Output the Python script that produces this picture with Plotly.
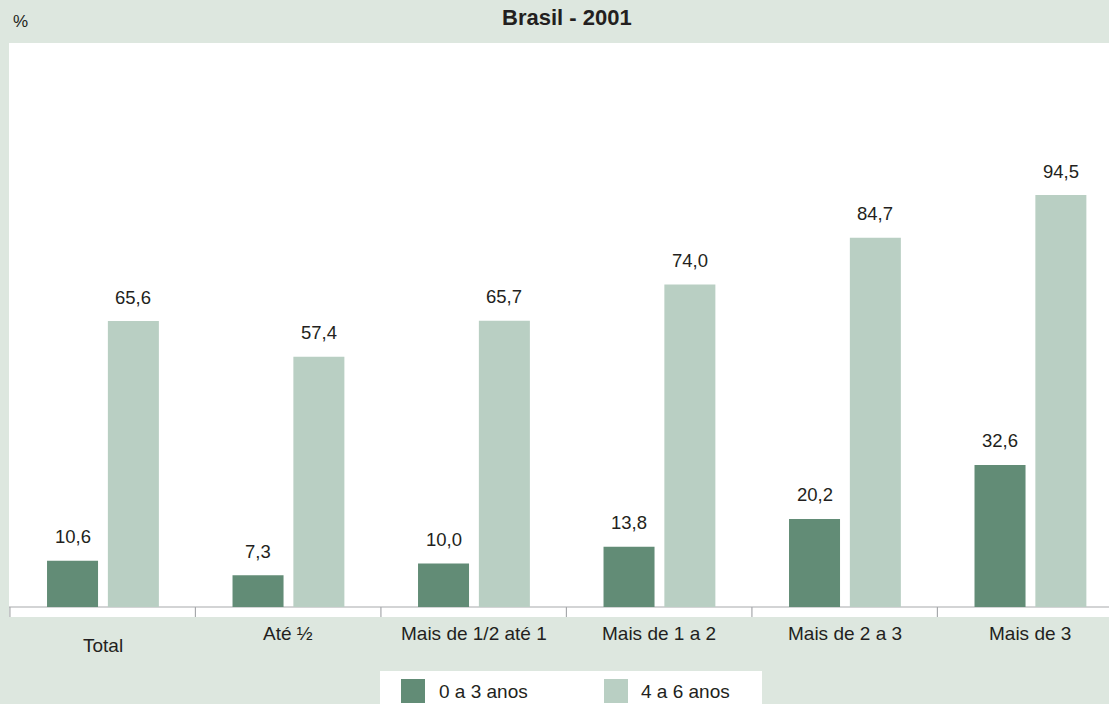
import plotly.graph_objects as go

# Data
categories = ["Total", "Até ½", "Mais de 1/2 até 1", "Mais de 1 a 2", "Mais de 2 a 3", "Mais de 3"]
series_names = ["0 a 3 anos", "4 a 6 anos"]
values_0_3 = [10.6, 7.3, 10.0, 13.8, 20.2, 32.6]
values_4_6 = [65.6, 57.4, 65.7, 74.0, 84.7, 94.5]

# Style
W, H = 1109, 704
M_L, M_R, M_T, M_B = 9, 0, 43, 87
BG = "#dde7df"
DARK = "#628c76"
LIGHT = "#b9cfc3"
AXIS = "#a7a9ac"
TEXT = "#231f20"
FONT = "Liberation Sans, Arial, sans-serif"

X_RANGE = [-0.505, 5.425]
Y_RANGE = [-2.29, 129.4]
BAR_W = 0.275
OFF_DARK = -0.30
OFF_LIGHT = 0.028

plot_w = W - M_L - M_R
plot_h = H - M_T - M_B


def px_x(p):
    return (p - M_L) / plot_w


def px_y(p):
    return (H - M_B - p) / plot_h


idx = list(range(len(categories)))

fig = go.Figure()
fig.add_trace(go.Bar(x=idx, y=values_0_3, name=series_names[0], marker_color=DARK,
                     marker_line_width=0, width=BAR_W, offset=OFF_DARK))
fig.add_trace(go.Bar(x=idx, y=values_4_6, name=series_names[1], marker_color=LIGHT,
                     marker_line_width=0, width=BAR_W, offset=OFF_LIGHT))

annotations = []
# value labels above bars
for vals, off in ((values_0_3, OFF_DARK), (values_4_6, OFF_LIGHT)):
    for i, v in zip(idx, vals):
        annotations.append(dict(
            x=i + off + BAR_W / 2, y=v, xref="x", yref="y",
            text=f"{v:.1f}".replace(".", ","), showarrow=False,
            yanchor="middle", yshift=24,
            font=dict(family=FONT, size=18.5, color=TEXT)))

# category labels
for i, c in zip(idx, categories):
    annotations.append(dict(
        x=i, y=0, xref="x", yref="paper", text=c, showarrow=False,
        yanchor="middle", yshift=-28 if i == 0 else -16,
        font=dict(family=FONT, size=19, color=TEXT)))

# title and unit
annotations.append(dict(
    x=px_x(567), y=1, xref="paper", yref="paper", text="<b>Brasil - 2001</b>",
    showarrow=False, xanchor="center", yanchor="middle", yshift=M_T - 17.5,
    font=dict(family=FONT, size=22, color=TEXT)))
annotations.append(dict(
    x=0, y=1, xref="paper", yref="paper", text="%", showarrow=False,
    xanchor="left", yanchor="middle", xshift=2, yshift=M_T - 21.5,
    font=dict(family=FONT, size=17, color=TEXT)))

shapes = []
# baseline
shapes.append(dict(type="line", xref="x", yref="y", x0=X_RANGE[0], x1=X_RANGE[1], y0=0, y1=0,
                   line=dict(color=AXIS, width=1.2), layer="below"))
# category separators
for i in range(len(categories) + 1):
    shapes.append(dict(type="line", xref="x", yref="y", x0=i - 0.5, x1=i - 0.5,
                       y0=Y_RANGE[0], y1=0, line=dict(color=AXIS, width=1.2)))

# legend box
shapes.append(dict(type="rect", xref="paper", yref="paper",
                   x0=px_x(380), x1=px_x(762), y0=px_y(704), y1=px_y(671),
                   fillcolor="white", line=dict(width=0)))
legend_items = [(series_names[0], DARK, 401, 437), (series_names[1], LIGHT, 604, 639)]
for name, color, sx, tx in legend_items:
    shapes.append(dict(type="rect", xref="paper", yref="paper",
                       x0=px_x(sx), x1=px_x(sx + 24), y0=px_y(703), y1=px_y(679),
                       fillcolor=color, line=dict(width=0)))
    annotations.append(dict(
        x=px_x(tx), y=px_y(691), xref="paper", yref="paper", text=name,
        showarrow=False, xanchor="left", yanchor="middle",
        font=dict(family=FONT, size=19, color=TEXT)))

fig.update_layout(
    width=W, height=H,
    margin=dict(l=M_L, r=M_R, t=M_T, b=M_B, pad=0),
    paper_bgcolor=BG, plot_bgcolor="white",
    showlegend=False,
    barmode="group",
    xaxis=dict(range=X_RANGE, showticklabels=False, showgrid=False, zeroline=False,
               showline=False, ticks=""),
    yaxis=dict(range=Y_RANGE, visible=False, showgrid=False, zeroline=False),
    annotations=annotations,
    shapes=shapes,
)

fig.write_html("out.html")
